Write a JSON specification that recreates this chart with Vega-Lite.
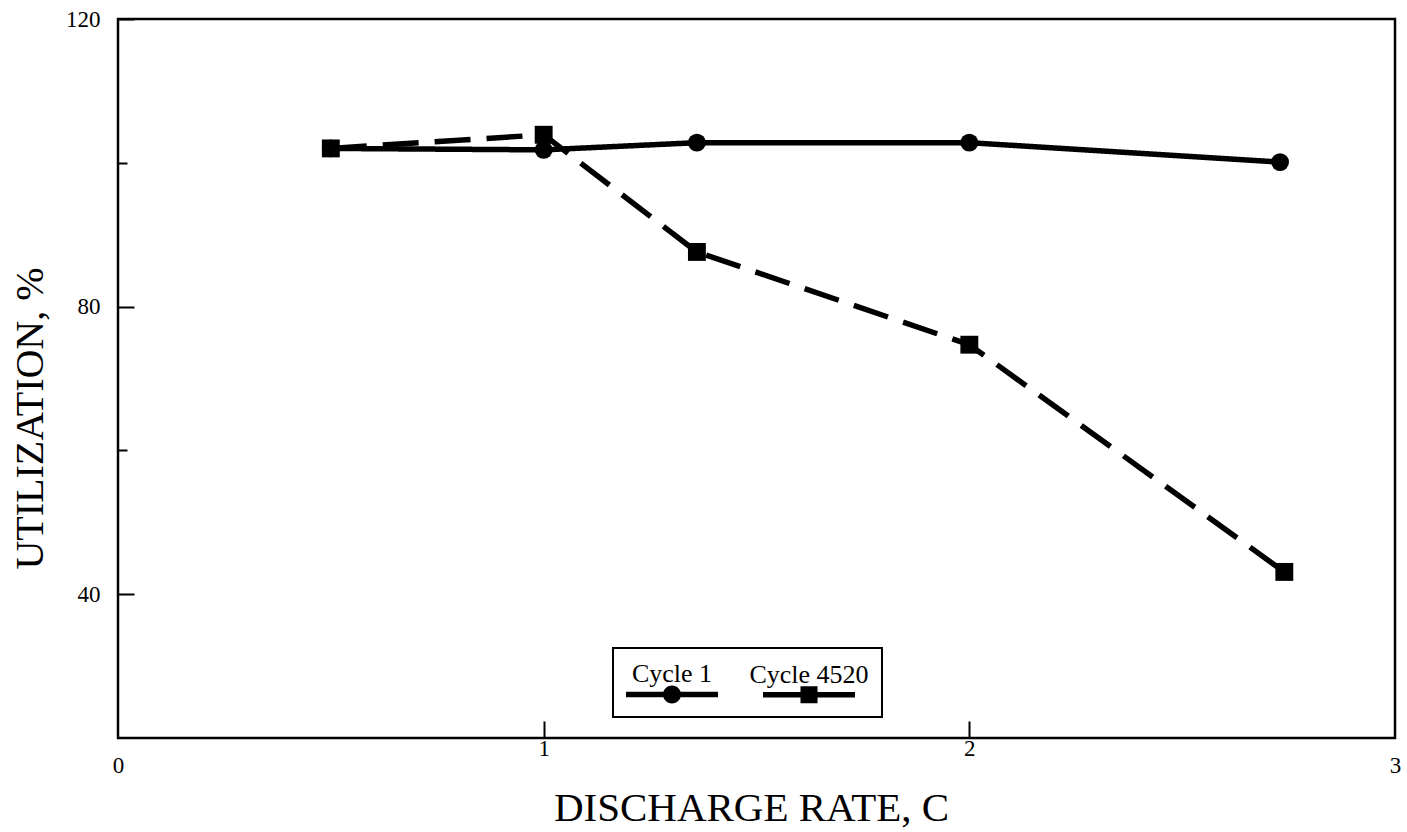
{
  "$schema": "https://vega.github.io/schema/vega-lite/v6.json",
  "width": 1277,
  "height": 719,
  "autosize": {"type": "none"},
  "padding": {"left": 118, "top": 19, "right": 12, "bottom": 94},
  "background": "white",
  "config": {
    "font": "Liberation Serif",
    "view": {"stroke": "black", "strokeWidth": 2.5},
    "axis": {"domain": false, "grid": false, "tickColor": "black", "tickWidth": 2, "labelColor": "black", "titleColor": "black", "labelFont": "Liberation Serif", "titleFont": "Liberation Serif", "titleFontWeight": "normal", "labelFontSize": 23},
    "legend": {
      "title": null,
      "orient": "none",
      "legendX": 495,
      "legendY": 629,
      "direction": "horizontal",
      "strokeColor": "black",
      "fillColor": "white",
      "padding": 13,
      "columnPadding": 30,
      "symbolSize": 4356,
      "symbolFillColor": "black",
      "symbolStrokeColor": "black",
      "symbolStrokeWidth": 0,
      "labelFontSize": 26,
      "labelFont": "Liberation Serif",
      "labelColor": "black",
      "labelAlign": "center",
      "labelOffset": 0
    }
  },
  "data": {
    "values": [
      {"rate": 0.5, "util": 102.0, "series": "Cycle 1"},
      {"rate": 1.0, "util": 101.8, "series": "Cycle 1"},
      {"rate": 1.36, "util": 102.8, "series": "Cycle 1"},
      {"rate": 2.0, "util": 102.8, "series": "Cycle 1"},
      {"rate": 2.73, "util": 100.1, "series": "Cycle 1"},
      {"rate": 0.5, "util": 102.0, "series": "Cycle 4520"},
      {"rate": 1.0, "util": 103.9, "series": "Cycle 4520"},
      {"rate": 1.36, "util": 87.6, "series": "Cycle 4520"},
      {"rate": 2.0, "util": 74.7, "series": "Cycle 4520"},
      {"rate": 2.74, "util": 43.1, "series": "Cycle 4520"}
    ]
  },
  "encoding": {
    "x": {
      "field": "rate", "type": "quantitative",
      "scale": {"domain": [0, 3], "nice": false, "zero": false},
      "axis": {
        "title": "DISCHARGE RATE, C",
        "values": [0, 1, 2, 3],
        "format": "d",
        "tickSize": {"condition": {"test": "datum.value === 1 || datum.value === 2", "value": -17}, "value": 0},
        "labelFontSize": 23,
        "labelBaseline": "top",
        "labelPadding": 16,
        "labelFlush": false,
        "titleFontSize": 41,
        "titleX": 633,
        "titleY": 82,
        "titleAlign": "center",
        "titleBaseline": "alphabetic"
      }
    },
    "y": {
      "field": "util", "type": "quantitative",
      "scale": {"domain": [20, 120], "nice": false, "zero": false},
      "axis": {
        "title": "UTILIZATION, %",
        "values": [40, 60, 80, 100, 120],
        "labelExpr": "datum.value % 40 === 0 ? datum.label : ''",
        "tickSize": {"condition": {"test": "datum.value % 40 === 0", "value": -16}, "value": -9},
        "labelFontSize": 23,
        "labelPadding": 34,
        "labelFlush": false,
        "titleFontSize": 40,
        "titleAngle": 270,
        "titleX": -88,
        "titleY": 399,
        "titleAlign": "center",
        "titleBaseline": "middle"
      }
    }
  },
  "resolve": {"scale": {"shape": "independent"}, "legend": {"shape": "independent"}},
  "layer": [
    {
      "mark": {"type": "line", "color": "black", "strokeWidth": 5.5},
      "encoding": {
        "strokeDash": {
          "field": "series", "type": "nominal",
          "scale": {"domain": ["Cycle 1", "Cycle 4520"], "range": [[1, 0], [36, 16]]},
          "legend": null
        }
      }
    },
    {
      "mark": {"type": "point", "filled": true, "color": "black", "opacity": 1, "size": 320},
      "encoding": {
        "shape": {
          "field": "series", "type": "nominal",
          "scale": {"domain": ["Cycle 1", "Cycle 4520"], "range": ["circle", "square"]},
          "legend": null
        }
      }
    },
    {
      "transform": [{"filter": "false"}],
      "mark": {"type": "point", "filled": true, "color": "black", "opacity": 1},
      "encoding": {
        "shape": {
          "field": "series", "type": "nominal",
          "scale": {
            "domain": ["Cycle 1", "Cycle 4520"],
            "range": [
              "M-1,-0.082L1.788,-0.082L1.788,0.082L-1,0.082Z M0.667,0A0.273,0.273 0 1,1 0.121,0A0.273,0.273 0 1,1 0.667,0Z",
              "M-1,-0.082L1.788,-0.082L1.788,0.082L-1,0.082Z M0.136,-0.258L0.652,-0.258L0.652,0.258L0.136,0.258Z"
            ]
          },
          "legend": {
            "encoding": {
              "legend": {"strokeWidth": {"value": 2}},
              "symbols": {
                "size": {"value": 4356},
                "fill": {"value": "black"},
                "opacity": {"value": 1}
              },
              "labels": {
                "dx": {"value": -20},
                "dy": {"value": -20}
              }
            }
          }
        }
      }
    }
  ]
}
